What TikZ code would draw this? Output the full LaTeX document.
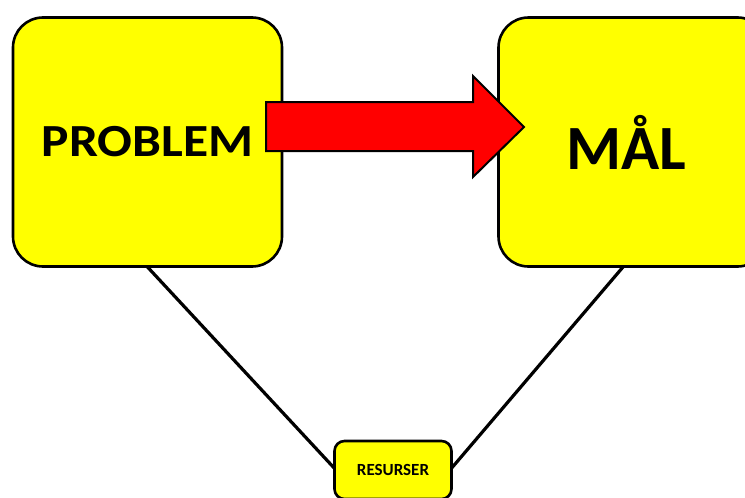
\documentclass[tikz,border=0pt]{standalone}
\usepackage{fontspec}
\setmainfont{Carlito}
\definecolor{ylw}{RGB}{255,255,0}
\definecolor{rd}{RGB}{255,0,0}
\begin{document}
\begin{tikzpicture}[x=1pt,y=-1pt,
  ybox/.style={draw=black, line width=2.6pt, fill=ylw, rounded corners=30pt, inner sep=0pt},
  link/.style={draw=black, line width=3.2pt}]
\useasboundingbox (0,0) rectangle (745,498);
\clip (0,0) rectangle (745,498);
\coordinate (Pc) at (147.5,142);
\coordinate (Mc) at (633,142);
\coordinate (Rc) at (393,470);
% connectors behind the boxes
\draw[link] (Pc |- 0,267) -- (Rc -| 336,0);
\draw[link] (623,267) -- (Rc -| 450,0);
\node[ybox, minimum width=269pt, minimum height=249pt] (P) at (Pc)
  {\fontsize{46pt}{50pt}\selectfont\bfseries\scalebox{1.12}[1]{PROBLEM}};
\node[ybox, minimum width=269pt, minimum height=249pt] (M) at (Mc)
  {\hspace*{-14pt}\fontsize{63pt}{66pt}\selectfont\bfseries MÅL};
\node[ybox, rounded corners=10pt, minimum width=117pt, minimum height=58pt] (R) at (Rc)
  {\fontsize{17pt}{18pt}\selectfont\bfseries RESURSER};
% block arrow
\draw[line width=2pt, fill=rd, line join=miter]
  (266,102) -- (473,102) -- (473,76) -- (524,127) -- (473,177) -- (473,151) -- (266,151) -- cycle;
\end{tikzpicture}
\end{document}
